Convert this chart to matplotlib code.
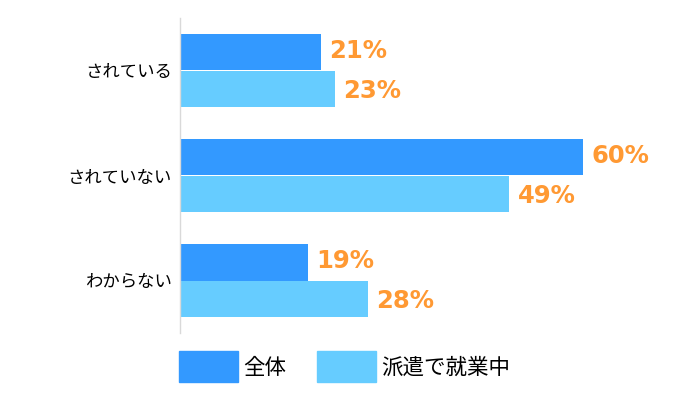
import numpy as np
import matplotlib.pyplot as plt
from matplotlib.patches import Patch

plt.rcParams['font.family'] = ['Noto Sans CJK JP', 'DejaVu Sans']

categories = ['されている', 'されていない', 'わからない']
series_names = ['全体', '派遣で就業中']
overall = [21, 60, 19]
dispatch = [23, 49, 28]

c_dark = '#3399FF'
c_light = '#66CCFF'
c_text = '#FF9933'

fig = plt.figure(figsize=(7, 4.18), dpi=100)
ax = fig.add_axes([180 / 700, 85 / 418, 510 / 700, 315 / 418])

y = np.arange(len(categories))
h = 0.345
b1 = ax.barh(y - h / 2, overall, height=h, color=c_dark, label=series_names[0])
b2 = ax.barh(y + h / 2, dispatch, height=h, color=c_light, label=series_names[1])

# labels sit slightly off the bar centres in the original
for bars, vals, dy in [(b1, overall, 1), (b2, dispatch, -1.5)]:
    for bar, v in zip(bars, vals):
        ax.annotate(f'{v}%', (bar.get_width(), bar.get_y() + bar.get_height() / 2),
                    xytext=(6, dy), textcoords='offset points', ha='left', va='center',
                    color=c_text, fontsize=17.5, fontweight='bold', family='DejaVu Sans')

ax.set_xlim(0, 510 / 6.72)
ax.set_ylim(2.5, -0.5)
ax.set_yticks(y)
ax.set_yticklabels(categories, fontsize=12.5)
ax.tick_params(axis='y', length=0, pad=6)
ax.set_xticks([])
for s in ['top', 'right', 'bottom']:
    ax.spines[s].set_visible(False)
ax.spines['left'].set_color('#d9d9d9')
ax.spines['left'].set_linewidth(1)

handles = [Patch(color=c_dark), Patch(color=c_light)]
fig.legend(handles, series_names, loc='upper left', bbox_to_anchor=(164 / 700, 1 - 336 / 418),
           ncol=2, frameon=False, fontsize=15.5, handlelength=2.75, handleheight=1.85,
           handletextpad=0.25, columnspacing=1.4, borderpad=0.2)

fig.savefig('out.png', dpi=100)
